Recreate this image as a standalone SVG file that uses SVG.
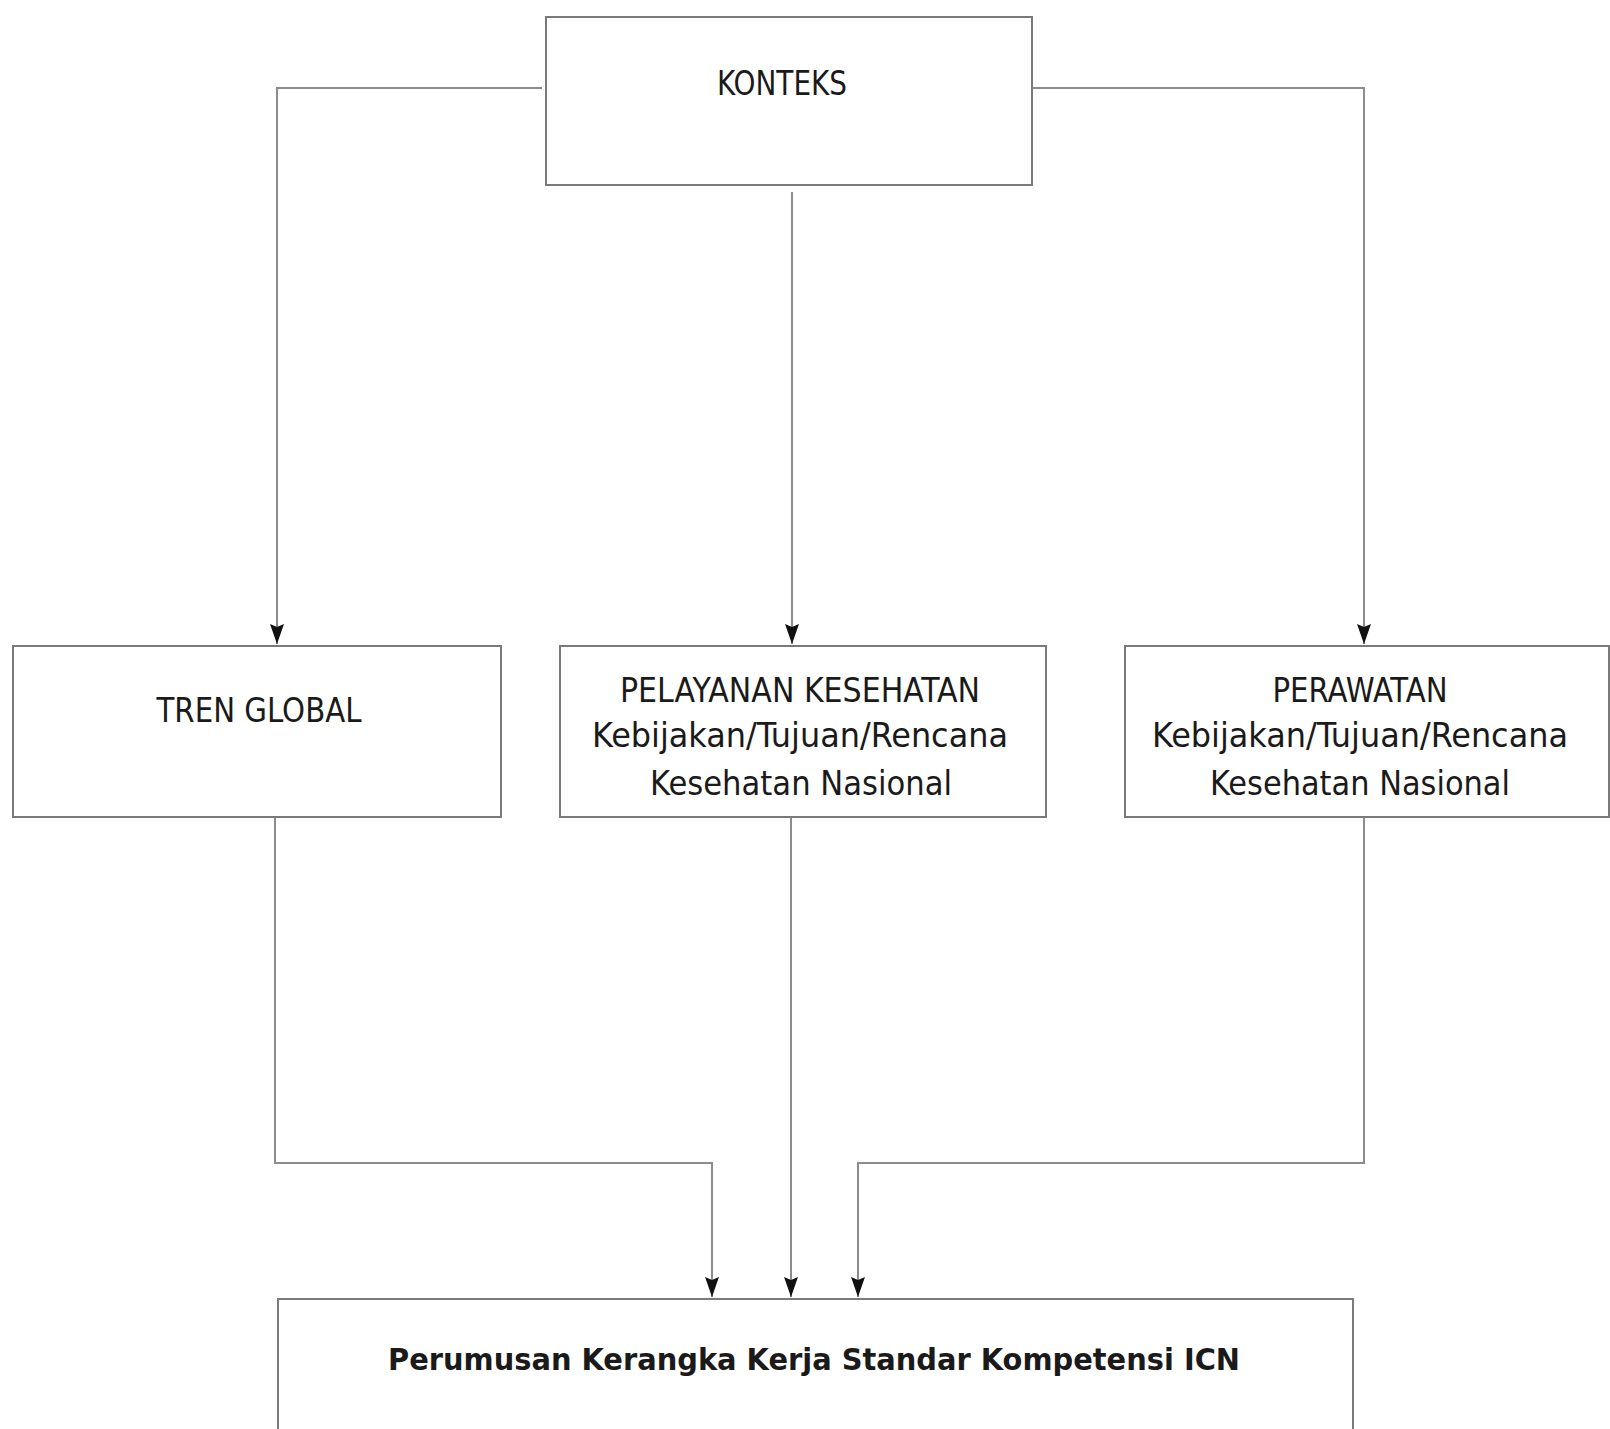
<svg xmlns="http://www.w3.org/2000/svg" width="1610" height="1429" viewBox="0 0 1610 1429">
<style>
.box{fill:#fff;stroke:#7a7a7a;stroke-width:2}
.ln{fill:none;stroke:#8c8c8c;stroke-width:2}
.t{font-family:"DejaVu Sans Condensed","DejaVu Sans","Liberation Sans",sans-serif;font-stretch:condensed;font-size:33px;fill:#1a1a1a;text-anchor:middle}
.b{font-weight:bold;font-size:31px}
</style>
<defs>
<marker id="ah" markerUnits="userSpaceOnUse" markerWidth="20" markerHeight="14" viewBox="0 0 20 14" refX="20" refY="7" orient="auto">
<path d="M0,0 L20,7 L0,14 L3,7 z" fill="#111"/>
</marker>
</defs>
<rect width="1610" height="1429" fill="#fff"/>
<g id="connectors">
<path class="ln" d="M542,88 H277 V644" marker-end="url(#ah)"/>
<path class="ln" d="M792,192 V644" marker-end="url(#ah)"/>
<path class="ln" d="M1033,88 H1364 V644" marker-end="url(#ah)"/>
<path class="ln" d="M275,817 V1163 H712 V1297" marker-end="url(#ah)"/>
<path class="ln" d="M791,817 V1297" marker-end="url(#ah)"/>
<path class="ln" d="M1364,817 V1163 H858 V1297" marker-end="url(#ah)"/>
</g>
<g id="konteks">
<rect class="box" x="546" y="17" width="486" height="168"/>
<text class="t" x="782" y="95" textLength="130" lengthAdjust="spacingAndGlyphs">KONTEKS</text>
</g>
<g id="tren-global">
<rect class="box" x="13" y="646" width="488" height="171"/>
<text class="t" x="259" y="722" textLength="205" lengthAdjust="spacingAndGlyphs">TREN GLOBAL</text>
</g>
<g id="pelayanan-kesehatan">
<rect class="box" x="560" y="646" width="486" height="171"/>
<text class="t" x="800" y="702" textLength="360" lengthAdjust="spacingAndGlyphs">PELAYANAN KESEHATAN</text>
<text class="t" x="800" y="747" textLength="416" lengthAdjust="spacingAndGlyphs">Kebijakan/Tujuan/Rencana</text>
<text class="t" x="801" y="795" textLength="302" lengthAdjust="spacingAndGlyphs">Kesehatan Nasional</text>
</g>
<g id="perawatan">
<rect class="box" x="1125" y="646" width="484" height="171"/>
<text class="t" x="1360" y="702" textLength="175" lengthAdjust="spacingAndGlyphs">PERAWATAN</text>
<text class="t" x="1360" y="747" textLength="416" lengthAdjust="spacingAndGlyphs">Kebijakan/Tujuan/Rencana</text>
<text class="t" x="1360" y="795" textLength="300" lengthAdjust="spacingAndGlyphs">Kesehatan Nasional</text>
</g>
<g id="perumusan">
<rect class="box" x="278" y="1299" width="1075" height="150"/>
<text class="t b" x="814" y="1370" textLength="852" lengthAdjust="spacingAndGlyphs">Perumusan Kerangka Kerja Standar Kompetensi ICN</text>
</g>
</svg>
